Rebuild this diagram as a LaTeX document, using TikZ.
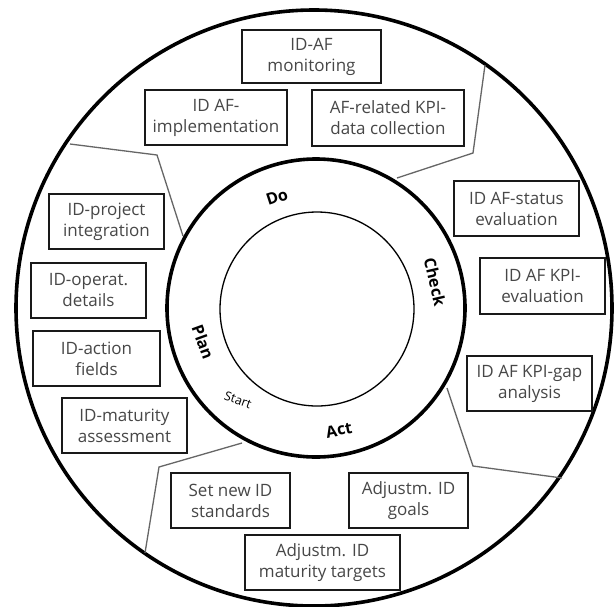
\documentclass[tikz,border=0pt]{standalone}
\usepackage{fontspec}
\setmainfont{Open Sans}
\begin{document}
\begin{tikzpicture}[x=1pt,y=-1pt,
  box/.style={draw=black!90, line width=1.8pt, text=black!72, align=center,
    inner sep=0pt, font=\fontsize{17}{21}\selectfont},
  phase/.style={font=\fontsize{16}{18}\selectfont\bfseries, text=black},
  divider/.style={draw=black!60, line width=1.3pt}]
\useasboundingbox (0,0) rectangle (616,606);
\fill[white] (0,0) rectangle (616,606);
% circles
\draw[line width=3.6pt] (314,308) circle[radius=298];
\coordinate (c) at (316,308);
% dividers
\coordinate (ul1) at (70,144);  \coordinate (ul2) at (157,155); \coordinate (ul3) at (183,236);
\coordinate (ur1) at (485,65);  \coordinate (ur2) at (473,153); \coordinate (ur3) at (397,178);
\coordinate (lr1) at (447,388); \coordinate (lr2) at (473,466); \coordinate (lr3) at (562,478);
\coordinate (ll1) at (242,443); \coordinate (ll2) at (159,467); \coordinate (ll3) at (145,553);
\draw[divider] (ul1) -- (ul2) -- (ul3);
\draw[divider] (ur1) -- (ur2) -- (ur3);
\draw[divider] (lr1) -- (lr2) -- (lr3);
\draw[divider] (ll1) -- (ll2) -- (ll3);
\fill[white] (c) circle[radius=149];
\draw[line width=3.6pt] (c) circle[radius=149];
\draw[line width=1.3pt] (317,309) circle[radius=97];
% phase labels
\node[phase, rotate=18] (do) at (277,197) {Do};
\node[phase, rotate=-77] (check) at (435,282) {Check};
\node[phase, rotate=-70] (plan) at (203,342) {Plan};
\node[font=\fontsize{12.5}{14}\selectfont, rotate=-20] (start) at (238,400) {Start};
\node[phase, rotate=11] (act) at (339,430) {Act};
% boxes
\node[box, minimum width=139, minimum height=53] (mon) at (311.5,56.5) {ID-AF\\monitoring};
\node[box, minimum width=142, minimum height=55] (impl) at (216,117.5) {ID AF-\\implementation};
\node[box, minimum width=152, minimum height=56] (kpi) at (388,118) {AF-related KPI-\\data collection};
\node[box, minimum width=115, minimum height=55] (proj) at (106.5,221.5) {ID-project\\integration};
\node[box, minimum width=115, minimum height=55] (oper) at (88.5,290.5) {ID-operat.\\details};
\node[box, minimum width=127, minimum height=55] (action) at (96.5,358.5) {ID-action\\fields};
\node[box, minimum width=125, minimum height=55] (matur) at (124.5,425.5) {ID-maturity\\assessment};
\node[box, minimum width=125, minimum height=55] (status) at (516.5,208.5) {ID AF-status\\evaluation};
\node[box, minimum width=125, minimum height=56] (kpieval) at (542.5,286) {ID AF KPI-\\evaluation};
\node[box, minimum width=125, minimum height=55] (gap) at (529.5,383.5) {ID AF KPI-gap\\analysis};
\node[box, minimum width=119, minimum height=55] (setnew) at (230.5,500.5) {Set new ID\\standards};
\node[box, minimum width=119, minimum height=55] (goals) at (408.5,500.5) {Adjustm. ID\\goals};
\node[box, minimum width=155, minimum height=55] (targets) at (322.5,562.5) {Adjustm. ID\\maturity targets};
\end{tikzpicture}
\end{document}
